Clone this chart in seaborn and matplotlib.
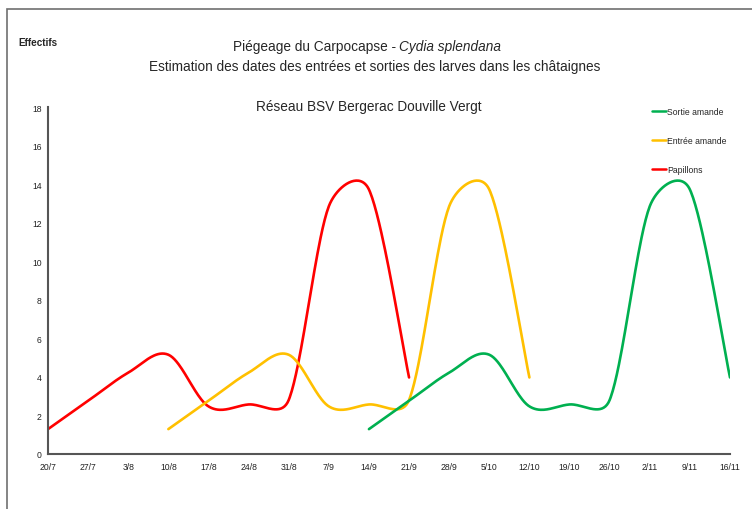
import numpy as np
import pandas as pd
import matplotlib
matplotlib.use("Agg")
import matplotlib.pyplot as plt
import seaborn as sns
from matplotlib import font_manager
from matplotlib.lines import Line2D
from matplotlib.patches import Rectangle

# ---------------- data ----------------
weeks = ["20/7", "27/7", "3/8", "10/8", "17/8", "24/8", "31/8", "7/9", "14/9",
         "21/9", "28/9", "5/10", "12/10", "19/10", "26/10", "2/11", "9/11", "16/11"]
y_ticks = [0, 2, 4, 6, 8, 10, 12, 14, 16, 18]

papillons_dates = ["20/7", "27/7", "3/8", "10/8", "17/8", "24/8", "31/8", "7/9", "14/9", "21/9"]
papillons = [1.29, 2.76, 4.22, 5.15, 2.47, 2.57, 2.80, 12.85, 13.72, 3.97]

entree_dates = ["10/8", "17/8", "24/8", "31/8", "7/9", "14/9", "21/9", "28/9", "5/10", "12/10"]
entree = [1.29, 2.76, 4.22, 5.15, 2.47, 2.57, 2.80, 12.85, 13.72, 3.97]

sortie_dates = ["14/9", "21/9", "28/9", "5/10", "12/10", "19/10", "26/10", "2/11", "9/11", "16/11"]
sortie = [1.29, 2.76, 4.22, 5.15, 2.47, 2.57, 2.80, 12.85, 13.72, 3.97]

colors = {"Papillons": "#FF0000", "Entrée amande": "#FFC000", "Sortie amande": "#00B050"}
legend_order = ["Sortie amande", "Entrée amande", "Papillons"]

# ---------------- style ----------------
sns.set_style("white")
installed = {f.name for f in font_manager.fontManager.ttflist}
main_font = "Liberation Sans Narrow" if "Liberation Sans Narrow" in installed else "Liberation Sans"
narrow = main_font == "Liberation Sans Narrow"
plt.rcParams["font.family"] = [main_font, "DejaVu Sans"]

fs_title = 11.5 if narrow else 9.8
fs_small = 7.5 if narrow else 6.2

W, H = 752, 510
fig = plt.figure(figsize=(W / 100, H / 100), dpi=100)
ax = fig.add_axes([48 / W, 1 - 455 / H, (730 - 48) / W, (455 - 108) / H])
ax.set_xlim(0, len(weeks) - 1)
ax.set_ylim(0, 18)

# frame around the whole chart
fig.patches.append(Rectangle((7 / W, -0.1), 1.2, 1 - 9.5 / H + 0.1, transform=fig.transFigure,
                             fill=False, edgecolor="#6f6f6f", linewidth=1.2))


def excel_smooth(ax, xs, ys, n=40):
    pts = ax.transData.transform(np.column_stack([xs, ys]))
    N = len(pts)
    out = [pts[0]]
    t = np.linspace(0, 1, n)[1:][:, None]
    for i in range(N - 1):
        p0 = pts[i - 1] if i > 0 else pts[i]
        p1, p2 = pts[i], pts[i + 1]
        p3 = pts[i + 2] if i + 2 < N else pts[i + 1]
        d12 = np.linalg.norm(p2 - p1)
        t1, t2 = p2 - p0, p3 - p1
        h1 = t1 / 6.0
        if np.linalg.norm(t1) / 6.0 > d12 / 2.0:
            h1 = t1 * (d12 / 2.0) / np.linalg.norm(t1)
        h2 = t2 / 6.0
        if np.linalg.norm(t2) / 6.0 > d12 / 2.0:
            h2 = t2 * (d12 / 2.0) / np.linalg.norm(t2)
        c1, c2 = p1 + h1, p2 - h2
        b = ((1 - t) ** 3) * p1 + 3 * ((1 - t) ** 2) * t * c1 + 3 * (1 - t) * t ** 2 * c2 + t ** 3 * p2
        out.extend(list(b))
    return ax.transData.inverted().transform(np.array(out))


frames = []
for name, dates, vals in [("Papillons", papillons_dates, papillons),
                          ("Entrée amande", entree_dates, entree),
                          ("Sortie amande", sortie_dates, sortie)]:
    xs = [weeks.index(d) for d in dates]
    curve = excel_smooth(ax, xs, vals)
    frames.append(pd.DataFrame({"x": curve[:, 0], "y": curve[:, 1], "serie": name}))
df = pd.concat(frames, ignore_index=True)

sns.lineplot(data=df, x="x", y="y", hue="serie", palette=colors, sort=False,
             estimator=None, units="serie", linewidth=1.9, ax=ax, legend=False)

# axes styling
for s in ["top", "right"]:
    ax.spines[s].set_visible(False)
for s in ["left", "bottom"]:
    ax.spines[s].set_color("#555555")
    ax.spines[s].set_linewidth(1.5)
ax.set_xticks(range(len(weeks)))
ax.set_xticklabels(weeks)
ax.set_yticks(y_ticks)
ax.set_yticklabels([str(v) for v in y_ticks])
ax.tick_params(axis="both", direction="inout", length=7, width=1.0, color="#333333",
               labelsize=fs_small, labelcolor="#222222")
ax.tick_params(axis="x", pad=2.5)
ax.tick_params(axis="y", pad=1.0)
ax.set_xlabel("")
ax.set_ylabel("")
ax.grid(False)

# legend
handles = [Line2D([0], [0], color=colors[n], lw=1.8) for n in legend_order]
leg = ax.legend(handles, legend_order, loc="upper left",
                bbox_to_anchor=((652 - 48) / (730 - 48), (455 - 108) / (455 - 108)),
                frameon=False, fontsize=fs_small, handlelength=1.65, handletextpad=0.1,
                labelspacing=2.3, borderpad=0, borderaxespad=0)

# texts
fig.text(18 / W, 1 - 43 / H, "Effectifs", fontsize=fs_small + 1.0, fontweight="bold", va="center", ha="left")

renderer = fig.canvas.get_renderer()
part1 = fig.text(0, 1 - 47 / H, "Piégeage du Carpocapse - ", fontsize=fs_title, va="center", ha="left")
part2 = fig.text(0, 1 - 47 / H, "Cydia splendana", fontsize=fs_title, style="italic", va="center", ha="left")
w1 = part1.get_window_extent(renderer).width
w2 = part2.get_window_extent(renderer).width
x0 = 367 - (w1 + w2) / 2
part1.set_x(x0 / W)
part2.set_x((x0 + w1) / W)

fig.text(374.5 / W, 1 - 67 / H, "Estimation des dates des entrées et sorties des larves dans les châtaignes",
         fontsize=fs_title, va="center", ha="center")
fig.text(369 / W, 1 - 107 / H, "Réseau BSV Bergerac Douville Vergt", fontsize=fs_title,
         va="center", ha="center")

fig.savefig("out.png", dpi=100)
